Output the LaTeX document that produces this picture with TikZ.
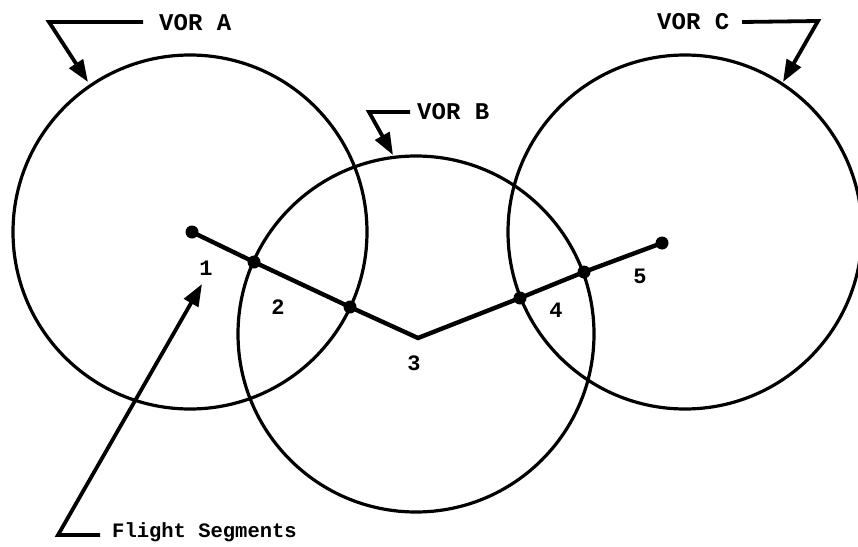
\documentclass[tikz,border=0pt]{standalone}
\usepackage{fontspec}
\setmonofont{Liberation Mono}
\usetikzlibrary{arrows.meta}
\begin{document}
\begin{tikzpicture}[x=1pt,y=-1pt,
  ring/.style={line width=3.2pt},
  route/.style={line width=4.4pt,line join=miter},
  dot/.style={circle,fill=black,inner sep=0pt,minimum size=13pt},
  callout/.style={line width=3.8pt,-{Triangle[length=22pt,width=16pt]},line join=miter},
  lbl/.style={font=\ttfamily\bfseries\fontsize{24}{24}\selectfont,inner sep=0pt,anchor=west},
  num/.style={font=\ttfamily\bfseries\fontsize{22}{22}\selectfont,inner sep=0pt}]
\useasboundingbox (0,0) rectangle (858,546);
% VOR circles
\coordinate (cA) at (190,232);
\coordinate (cB) at (416,334);
\coordinate (cC) at (685,232);
\draw[ring] (cA) circle[radius=177];
\draw[ring] (cB) circle[radius=178];
\draw[ring] (cC) circle[radius=177];
% flight route
\node[dot] (p1) at (192,232) {};
\node[dot] (pa) at (254,262) {};
\node[dot] (pb) at (350,307) {};
\coordinate (p3) at (418,338);
\node[dot] (pc) at (520,298) {};
\node[dot] (pd) at (584,272) {};
\node[dot] (p5) at (662,243) {};
\draw[route] (p1.center) -- (pa.center) -- (pb.center) -- (p3) -- (pc.center) -- (pd.center) -- (p5.center);
% numbers
\node[num] (n1) at (206,268) {1};
\node[num] (n2) at (278,307) {2};
\node[num] (n3) at (414,363) {3};
\node[num] (n4) at (556,310) {4};
\node[num] (n5) at (640,276) {5};
% labels
\node[lbl] (la) at (159,23) {VOR A};
\node[lbl] (lb) at (417,112) {VOR B};
\node[lbl] (lc) at (657,22) {VOR C};
\node[font=\ttfamily\bfseries\fontsize{20.5}{20.5}\selectfont,inner sep=0pt,anchor=west] (lf) at (112,532) {Flight Segments};
% callouts
\coordinate (ka) at (49,22);
\coordinate (ta) at (88,82);
\draw[callout] (143,22) -- (ka) -- (ta);
\coordinate (kb) at (369,112);
\coordinate (tb) at (393,155);
\draw[callout] (410,112) -- (kb) -- (tb);
\coordinate (kc) at (818,21);
\coordinate (tc) at (783,82);
\draw[callout] (742,22) -- (kc) -- (tc);
\coordinate (kf) at (58,535);
\coordinate (tf) at (202,284);
\draw[callout] (100,535) -- (kf) -- (tf);
\end{tikzpicture}
\end{document}
